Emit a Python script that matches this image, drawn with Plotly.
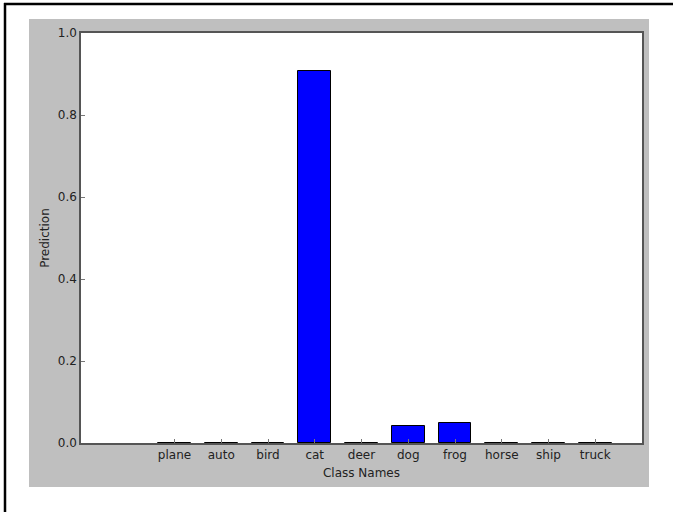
import plotly.graph_objects as go

categories = ["plane", "auto", "bird", "cat", "deer", "dog", "frog", "horse", "ship", "truck"]
predictions = [0.001, 0.001, 0.001, 0.908, 0.001, 0.041, 0.050, 0.001, 0.001, 0.001]
y_ticks = [0.0, 0.2, 0.4, 0.6, 0.8, 1.0]
y_tick_labels = ["0.0", "0.2", "0.4", "0.6", "0.8", "1.0"]

fig = go.Figure()
fig.add_trace(go.Bar(
    x=categories, y=predictions, width=0.7,
    marker=dict(color="#0000ff", line=dict(color="#000000", width=1)),
))

W, H = 673, 512
L, R, T, B = 81, 642, 33, 443
pw, ph = R - L, B - T

def px(x):
    return (x - L) / pw

def py(y):
    return (B - y) / ph

shapes = [
    dict(type="rect", xref="paper", yref="paper", layer="below",
         x0=px(29), x1=px(649), y0=py(487), y1=py(19),
         fillcolor="#bfbfbf", line=dict(width=0)),
    dict(type="rect", xref="paper", yref="paper", layer="below",
         x0=0, x1=1, y0=0, y1=1, fillcolor="#ffffff", line=dict(width=0)),
    dict(type="line", xref="paper", yref="paper",
         x0=px(4), x1=px(673), y0=py(4), y1=py(4),
         line=dict(color="#000000", width=2.5)),
    dict(type="line", xref="paper", yref="paper",
         x0=px(5), x1=px(5), y0=py(3), y1=py(512),
         line=dict(color="#000000", width=2.5)),
]

font = dict(family="DejaVu Sans", size=12, color="#222222")

fig.update_layout(
    width=W, height=H,
    margin=dict(l=L, r=W - R, t=T, b=H - B, pad=0),
    paper_bgcolor="#ffffff", plot_bgcolor="rgba(0,0,0,0)",
    showlegend=False, shapes=shapes, font=font, bargap=0,
    xaxis=dict(
        range=[-2, 10], showgrid=False, zeroline=False,
        showline=True, mirror=True, linecolor="#555555", linewidth=1.5,
        ticks="inside", ticklen=4, tickcolor="#777777", tickwidth=1,
        tickfont=font,
        title=dict(text="Class Names", font=font, standoff=7),
    ),
    yaxis=dict(
        range=[0, 1.0], showgrid=False, zeroline=False,
        showline=True, mirror=True, linecolor="#555555", linewidth=1.5,
        ticks="inside", ticklen=4, tickcolor="#777777", tickwidth=1,
        tickvals=y_ticks, ticktext=y_tick_labels, tickfont=font,
        title=dict(text="Prediction", font=font, standoff=6),
    ),
)

fig.write_html("out.html")
